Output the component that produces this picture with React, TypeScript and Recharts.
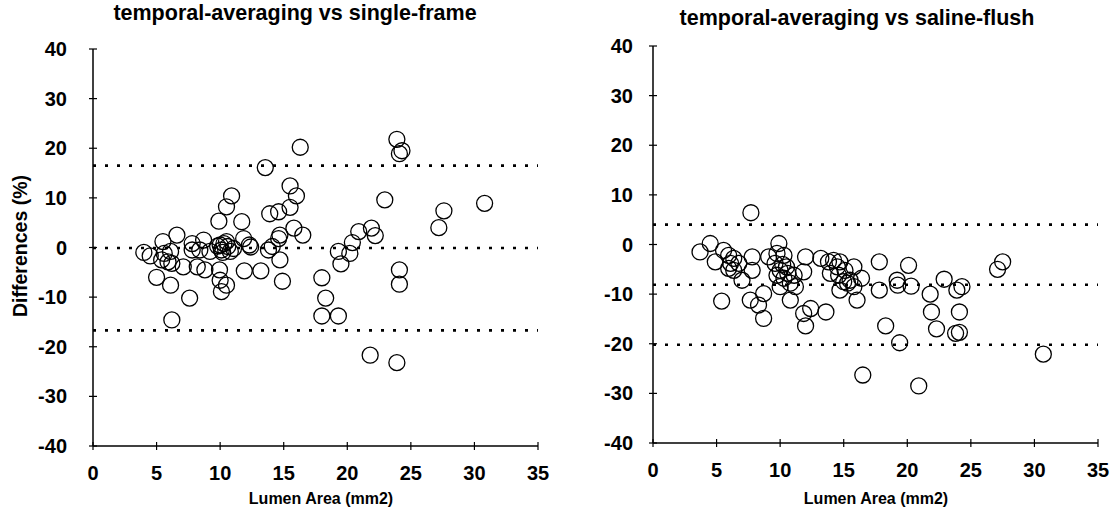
import React from 'react';
import { ScatterChart, Scatter, XAxis, YAxis, ReferenceLine } from 'recharts';

const xTicks = [0, 5, 10, 15, 20, 25, 30, 35];
const yTicks = [-40, -30, -20, -10, 0, 10, 20, 30, 40];

const titles = ['temporal-averaging vs single-frame', 'temporal-averaging vs saline-flush'];
const xAxisTitle = 'Lumen Area (mm2)';
const yAxisTitle = 'Differences (%)';

// left panel: temporal-averaging vs single-frame
const leftArea = [4.0, 4.5, 5.0, 5.4, 5.5, 5.6, 5.9, 6.1, 6.2, 6.1, 6.2, 6.6, 7.1, 7.6, 7.8, 7.8, 8.2, 8.4, 8.7, 8.8, 9.2, 9.9, 10.5, 10.9, 9.95, 10.0, 10.5, 10.1, 9.8, 10.0, 10.3, 10.1, 10.6, 10.5, 10.2, 10.8, 11.05, 11.7, 11.85, 12.3, 12.4, 11.9, 13.2, 13.55, 13.9, 14.6, 14.1, 13.8, 14.6, 14.7, 14.7, 14.9, 15.5, 15.5, 15.8, 16.0, 16.3, 16.5, 18.0, 18.3, 18.0, 19.3, 19.3, 19.5, 20.2, 20.4, 20.9, 21.9, 22.2, 21.8, 22.95, 23.9, 24.3, 24.1, 24.1, 24.1, 23.9, 27.2, 27.6, 30.8];
const leftDiff = [-1.0, -1.7, -6.0, -2.5, 1.2, -1.2, -2.9, -0.8, -3.2, -7.6, -14.6, 2.5, -3.9, -10.2, 0.8, -0.5, -3.9, -0.5, 1.5, -4.5, -0.8, 5.3, 8.2, 10.4, -4.5, -6.6, -7.6, -8.9, 0.3, 0.5, 0.8, -0.5, 0.2, 1.2, -1.0, -0.8, -0.2, 5.2, 1.8, 0.5, 0.1, -4.7, -4.7, 16.1, 6.8, 7.2, 0.2, -0.5, 1.8, 2.5, -2.5, -6.8, 12.4, 8.1, 3.9, 10.4, 20.2, 2.5, -6.1, -10.2, -13.8, -13.8, -0.8, -3.3, -1.2, 1.0, 3.2, 3.9, 2.4, -21.7, 9.6, 21.8, 19.5, 18.9, -4.5, -7.4, -23.2, 4.0, 7.4, 8.9];
const leftLimits = [16.5, -0.1, -16.7];

// right panel: temporal-averaging vs saline-flush
const rightArea = [3.7, 4.5, 4.9, 5.4, 5.55, 5.95, 6.1, 6.35, 5.95, 6.75, 6.35, 7.0, 7.7, 7.8, 7.8, 7.65, 8.3, 8.7, 8.7, 9.1, 9.9, 9.75, 10.3, 9.6, 10.0, 10.5, 9.75, 10.3, 11.1, 10.8, 10.0, 11.2, 10.8, 10.2, 10.6, 12.0, 11.85, 11.85, 12.4, 12.0, 13.6, 13.2, 13.8, 14.2, 14.5, 14.7, 13.95, 14.6, 15.1, 15.8, 16.4, 14.7, 15.3, 15.5, 16.05, 15.8, 15.0, 16.5, 17.8, 17.8, 18.3, 19.2, 19.25, 19.4, 20.1, 20.3, 20.9, 21.8, 21.9, 22.3, 22.9, 23.9, 24.3, 24.1, 23.8, 24.1, 27.1, 27.5, 30.7];
const rightDiff = [-1.5, 0.2, -3.5, -11.4, -1.2, -2.2, -3.8, -2.8, -4.8, -3.8, -5.2, -7.2, 6.4, -2.5, -5.2, -11.2, -12.2, -9.9, -14.9, -2.5, 0.2, -1.8, -2.2, -3.8, -5.2, -4.5, -6.2, -6.8, -6.2, -7.8, -8.5, -8.5, -11.2, -4.0, -5.8, -2.5, -5.5, -13.9, -12.9, -16.4, -13.6, -2.8, -3.5, -3.2, -4.5, -3.5, -5.8, -6.2, -5.2, -4.5, -6.8, -9.2, -7.8, -7.2, -11.2, -8.5, -7.5, -26.3, -3.5, -9.2, -16.4, -7.2, -8.2, -19.8, -4.2, -8.4, -28.5, -10.0, -13.6, -17.0, -7.0, -9.2, -8.5, -13.6, -17.9, -17.7, -5.0, -3.5, -22.1];
const rightLimits = [4.0, -8.1, -20.2];

const FONT = '"Liberation Sans", Arial, Helvetica, sans-serif';

const toData = (xs: number[], ys: number[]) => xs.map((x, i) => ({ x, y: ys[i] }));

const Ring = (props: any) => (
  <circle cx={props.cx} cy={props.cy} r={8} fill="none" stroke="#000" strokeWidth={1.3} />
);

const makeXTick = () => (props: any) => {
  const { x, y, payload } = props;
  return (
    <g>
      <line x1={x} x2={x} y1={y - 4} y2={y + 4} stroke="#000" strokeWidth={1.2} />
      <text x={x} y={y + 34} textAnchor="middle" fontFamily={FONT} fontWeight="bold" fontSize={20} fill="#000">
        {payload.value}
      </text>
    </g>
  );
};

const makeYTick = (gap: number) => (props: any) => {
  const { x, y, payload } = props;
  return (
    <g>
      <line x1={x - 4} x2={x + 4} y1={y} y2={y} stroke="#000" strokeWidth={1.2} />
      <text x={x - gap} y={y + 7} textAnchor="end" fontFamily={FONT} fontWeight="bold" fontSize={20} fill="#000">
        {payload.value}
      </text>
    </g>
  );
};

const Panel = ({ data, limits, margin, width, yGap }: any) => (
  <ScatterChart width={width} height={529} margin={margin}>
    <XAxis
      type="number"
      dataKey="x"
      domain={[0, 35]}
      ticks={xTicks}
      interval={0}
      height={40}
      tickSize={0}
      tickMargin={0}
      tickLine={false}
      axisLine={{ stroke: '#000', strokeWidth: 1.5 }}
      tick={makeXTick()}
      allowDataOverflow
    />
    <YAxis
      type="number"
      dataKey="y"
      domain={[-40, 40]}
      ticks={yTicks}
      interval={0}
      width={60}
      tickSize={0}
      tickMargin={0}
      tickLine={false}
      axisLine={{ stroke: '#000', strokeWidth: 1.5 }}
      tick={makeYTick(yGap)}
      allowDataOverflow
    />
    {limits.map((v: number, i: number) => (
      <ReferenceLine key={i} y={v} stroke="#000" strokeWidth={2.6} strokeDasharray="3 9" />
    ))}
    <Scatter data={data} shape={Ring} isAnimationActive={false} />
  </ScatterChart>
);

export default function App() {
  return (
    <div style={{ position: 'absolute', left: 0, top: 0, width: 1112, height: 529, background: '#fff' }}>
      <div style={{ position: 'absolute', left: 0, top: 0 }}>
        <Panel
          data={toData(leftArea, leftDiff)}
          limits={leftLimits}
          width={560}
          yGap={26}
          margin={{ top: 49, right: 22, bottom: 43, left: 33 }}
        />
      </div>
      <div style={{ position: 'absolute', left: 560, top: 0 }}>
        <Panel
          data={toData(rightArea, rightDiff)}
          limits={rightLimits}
          width={552}
          yGap={20}
          margin={{ top: 46, right: 14, bottom: 46, left: 33 }}
        />
      </div>
      <svg width={1112} height={529} style={{ position: 'absolute', left: 0, top: 0, pointerEvents: 'none' }}>
        <text x={295} y={20} textAnchor="middle" fontFamily={FONT} fontWeight="bold" fontSize={21.5} fill="#000">
          {titles[0]}
        </text>
        <text x={857} y={25} textAnchor="middle" fontFamily={FONT} fontWeight="bold" fontSize={21.5} fill="#000">
          {titles[1]}
        </text>
        <text x={321} y={504} textAnchor="middle" fontFamily={FONT} fontWeight="bold" fontSize={16} fill="#000">
          {xAxisTitle}
        </text>
        <text x={876} y={504} textAnchor="middle" fontFamily={FONT} fontWeight="bold" fontSize={16} fill="#000">
          {xAxisTitle}
        </text>
        <text
          x={0}
          y={0}
          transform="translate(27,246) rotate(-90)"
          textAnchor="middle"
          fontFamily={FONT}
          fontWeight="bold"
          fontSize={19.5}
          fill="#000"
        >
          {yAxisTitle}
        </text>
      </svg>
    </div>
  );
}
